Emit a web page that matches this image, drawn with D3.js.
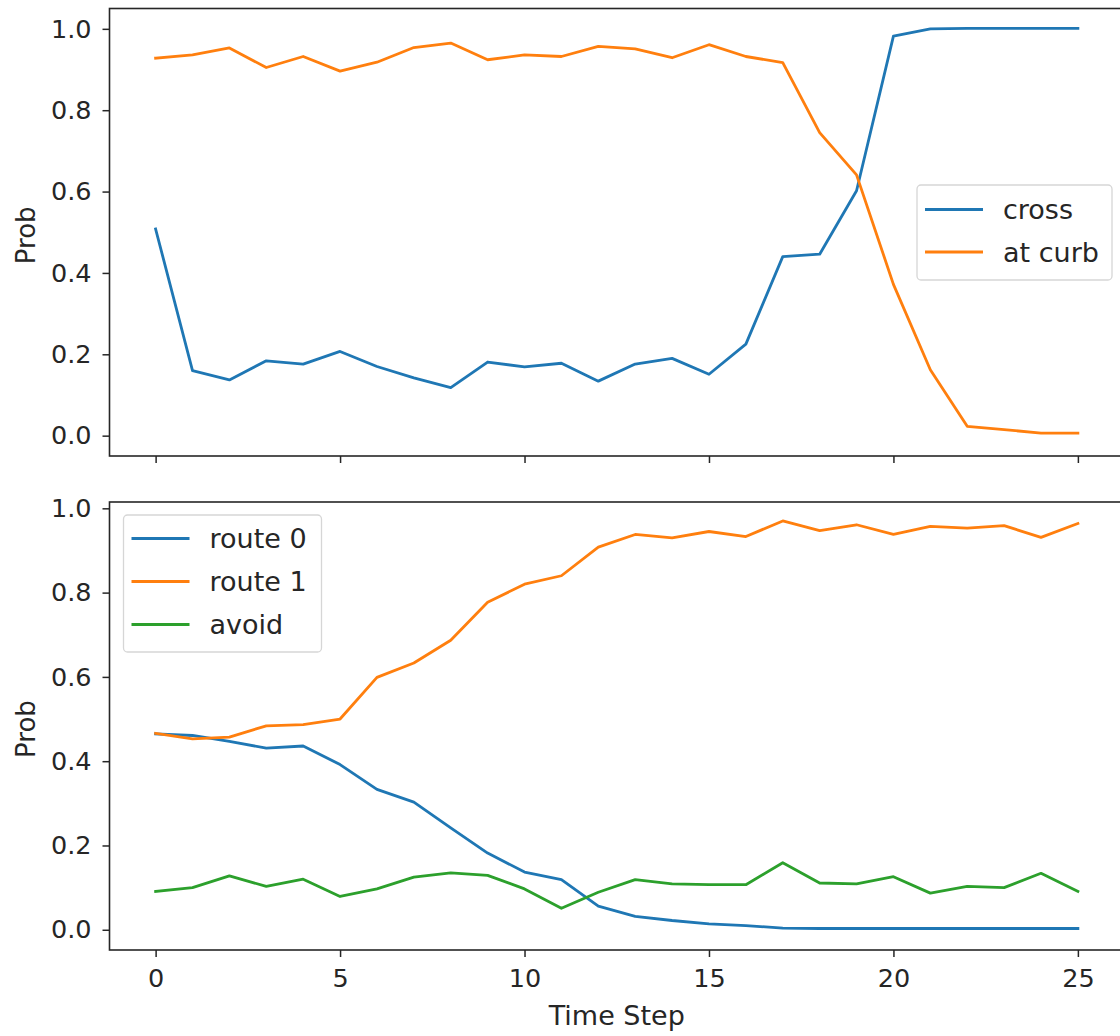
<!DOCTYPE html>
<html>
<head>
<meta charset="utf-8">
<script src="https://cdn.jsdelivr.net/npm/d3@7"></script>
<style>
  html, body { margin: 0; padding: 0; background: #fff; }
  svg { display: block; font-family: "DejaVu Sans", sans-serif; }
</style>
</head>
<body>
<svg id="chart" width="1120" height="1036"></svg>
<script>
// Time steps shared by both panels
const steps = d3.range(0, 26);

// Top panel: crossing intention
const crossProb = [0.508, 0.160, 0.137, 0.184, 0.176, 0.207, 0.170, 0.142, 0.118, 0.181,
                   0.169, 0.178, 0.134, 0.176, 0.190, 0.151, 0.225, 0.440, 0.446, 0.602,
                   0.982, 1.000, 1.001, 1.001, 1.001, 1.001];
const curbProb  = [0.928, 0.936, 0.953, 0.905, 0.932, 0.896, 0.918, 0.954, 0.965, 0.924,
                   0.936, 0.932, 0.957, 0.951, 0.929, 0.961, 0.932, 0.917, 0.745, 0.641,
                   0.372, 0.162, 0.023, 0.015, 0.006, 0.006];

// Bottom panel: route choice
const route0Prob = [0.465, 0.461, 0.447, 0.431, 0.436, 0.392, 0.333, 0.303, 0.242, 0.182,
                    0.137, 0.119, 0.056, 0.032, 0.022, 0.014, 0.010, 0.004, 0.003, 0.003,
                    0.003, 0.003, 0.003, 0.003, 0.003, 0.003];
const route1Prob = [0.466, 0.453, 0.457, 0.484, 0.487, 0.500, 0.599, 0.633, 0.687, 0.777,
                    0.820, 0.840, 0.908, 0.938, 0.930, 0.945, 0.933, 0.970, 0.947, 0.961,
                    0.938, 0.957, 0.953, 0.959, 0.931, 0.964];
const avoidProb  = [0.091, 0.100, 0.128, 0.103, 0.120, 0.079, 0.097, 0.125, 0.135, 0.129,
                    0.097, 0.051, 0.089, 0.119, 0.109, 0.107, 0.107, 0.159, 0.111, 0.109,
                    0.126, 0.087, 0.103, 0.100, 0.134, 0.091];

const xTicks = [0, 5, 10, 15, 20, 25];
const yTicks = [0.0, 0.2, 0.4, 0.6, 0.8, 1.0];

const topSeries = [
  { name: "cross",   values: crossProb, color: "#1f77b4" },
  { name: "at curb", values: curbProb,  color: "#ff7f0e" }
];
const bottomSeries = [
  { name: "route 0", values: route0Prob, color: "#1f77b4" },
  { name: "route 1", values: route1Prob, color: "#ff7f0e" },
  { name: "avoid",   values: avoidProb,  color: "#2ca02c" }
];

const svg = d3.select("#chart");
const TICK_FONT = 25.5;
const FONT = 27;
const left = 109.5, right = 1124;

const x = d3.scaleLinear().domain([-1.25, 26.25]).range([left, right]);

function panel(cfg) {
  const y = d3.scaleLinear().domain(cfg.yDomain).range([cfg.bottom, cfg.top]);
  const g = svg.append("g");

  const line = d3.line().x((d, i) => x(steps[i])).y(d => y(d));
  cfg.series.forEach(s => {
    g.append("path")
      .datum(s.values)
      .attr("fill", "none")
      .attr("stroke", s.color)
      .attr("stroke-width", 2.8)
      .attr("stroke-linejoin", "round")
      .attr("stroke-linecap", "square")
      .attr("d", line);
  });

  // frame
  g.append("rect")
    .attr("x", left).attr("y", cfg.top)
    .attr("width", right - left).attr("height", cfg.bottom - cfg.top)
    .attr("fill", "none").attr("stroke", "#262626").attr("stroke-width", 1.6);

  // y axis
  const ya = g.append("g").attr("transform", `translate(${left},0)`)
    .call(d3.axisLeft(y).tickValues(yTicks).tickFormat(d3.format(".1f"))
      .tickSize(7).tickSizeOuter(0).tickPadding(11));
  ya.select(".domain").remove();
  ya.selectAll(".tick line").attr("stroke", "#262626").attr("stroke-width", 1.5);
  ya.selectAll(".tick text").attr("font-size", TICK_FONT).attr("fill", "#262626")
    .attr("font-family", "DejaVu Sans");

  // x axis
  const xa = g.append("g").attr("transform", `translate(0,${cfg.bottom})`)
    .call(d3.axisBottom(x).tickValues(xTicks)
      .tickFormat(cfg.showX ? d3.format("d") : "")
      .tickSize(7).tickSizeOuter(0).tickPadding(12));
  xa.select(".domain").remove();
  xa.selectAll(".tick line").attr("stroke", "#262626").attr("stroke-width", 1.5);
  xa.selectAll(".tick text").attr("font-size", TICK_FONT).attr("fill", "#262626")
    .attr("font-family", "DejaVu Sans");

  // y label
  g.append("text")
    .attr("transform", `translate(35,${(cfg.top + cfg.bottom) / 2 + 3}) rotate(-90)`)
    .attr("text-anchor", "middle")
    .attr("font-size", FONT - 1).attr("fill", "#262626")
    .text("Prob");

  // legend
  const L = cfg.legend;
  const lg = g.append("g");
  lg.append("rect")
    .attr("x", L.x).attr("y", L.y).attr("width", L.w).attr("height", L.h)
    .attr("rx", 4).attr("ry", 4)
    .attr("fill", "#fff").attr("fill-opacity", 0.85)
    .attr("stroke", "#d6d6d6").attr("stroke-width", 1.3);
  cfg.series.forEach((s, i) => {
    const ly = L.firstY + i * L.dy;
    lg.append("line")
      .attr("x1", L.x + 8).attr("x2", L.x + 66)
      .attr("y1", ly).attr("y2", ly)
      .attr("stroke", s.color).attr("stroke-width", 2.8);
    lg.append("text")
      .attr("x", L.x + 86).attr("y", ly + 9.5)
      .attr("font-size", FONT).attr("fill", "#262626")
      .text(s.name);
  });
}

panel({
  top: 8.5, bottom: 456, yDomain: [-0.05, 1.05], series: topSeries, showX: false,
  legend: { x: 917, y: 185, w: 195, h: 95, firstY: 209.5, dy: 42.5 }
});
panel({
  top: 502, bottom: 950, yDomain: [-0.048, 1.015], series: bottomSeries, showX: true,
  legend: { x: 123.5, y: 515, w: 198, h: 137, firstY: 538.5, dy: 43 }
});

svg.append("text")
  .attr("x", (left + right) / 2).attr("y", 1025)
  .attr("text-anchor", "middle")
  .attr("font-size", FONT).attr("fill", "#262626")
  .text("Time Step");
</script>
</body>
</html>
